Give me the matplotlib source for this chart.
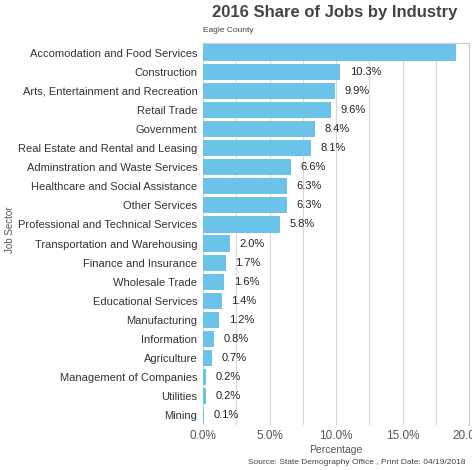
import matplotlib
matplotlib.use("Agg")
from matplotlib import pyplot as plt

sectors = ["Accomodation and Food Services", "Construction",
           "Arts, Entertainment and Recreation", "Retail Trade", "Government",
           "Real Estate and Rental and Leasing", "Adminstration and Waste Services",
           "Healthcare and Social Assistance", "Other Services",
           "Professional and Technical Services", "Transportation and Warehousing",
           "Finance and Insurance", "Wholesale Trade", "Educational Services",
           "Manufacturing", "Information", "Agriculture",
           "Management of Companies", "Utilities", "Mining"]
shares = [19.0, 10.3, 9.9, 9.6, 8.4, 8.1, 6.6, 6.3, 6.3, 5.8,
          2.0, 1.7, 1.6, 1.4, 1.2, 0.8, 0.7, 0.2, 0.2, 0.1]
xticks = [0, 5, 10, 15, 20]

plt.rcParams['font.family'] = ['Liberation Sans', 'DejaVu Sans']
fig = plt.figure(figsize=(4.72, 4.70), dpi=100)
ax = fig.add_axes([203/472, 45/470, 266/472, 382/470])

ypos = list(range(len(sectors)))
ax.barh(ypos, shares, height=0.85, color="#6CC3E9", zorder=2)
for y, v in zip(ypos, shares):
    if v < 15:
        ax.annotate("%.1f%%" % v, (v, y), xytext=(7, 0), textcoords="offset points",
                    va="center", ha="left", fontsize=8, color="#222222")

ax.set_xlim(0, 20)
ax.set_ylim(len(sectors) - 0.5, -0.5)
ax.set_yticks(ypos)
ax.set_yticklabels(sectors, fontsize=8, color="#333333")
ax.set_xticks(xticks)
ax.set_xticklabels(["%.1f%%" % t for t in xticks], fontsize=8.5, color="#555555")
ax.set_xticks([2.5, 7.5, 12.5, 17.5], minor=True)
ax.grid(axis="x", which="both", color="#d9d9d9", linewidth=0.8, zorder=0)
ax.tick_params(axis="both", which="both", length=0)
ax.tick_params(axis="y", pad=4)
for s in ax.spines.values():
    s.set_color("#cccccc")
ax.spines["left"].set_visible(False)
ax.spines["bottom"].set_visible(False)

ax.set_xlabel("Percentage", fontsize=7.5, color="#555555", labelpad=2)
fig.text(10/472, 1 - 230/470, "Job Sector", rotation=90, fontsize=7, color="#555555",
         ha="center", va="center")
fig.text(335/472, 1 - 13/470, "2016 Share of Jobs by Industry", fontsize=12,
         fontweight="bold", color="#444444", ha="center", va="center")
fig.text(203/472, 1 - 30/470, "Eagle County", fontsize=6, color="#444444",
         ha="left", va="center")
fig.text(466/472, 1 - 463/470, "Source: State Demography Office , Print Date: 04/19/2018",
         fontsize=6, color="#444444", ha="right", va="center")

fig.savefig("out.png", dpi=100)
